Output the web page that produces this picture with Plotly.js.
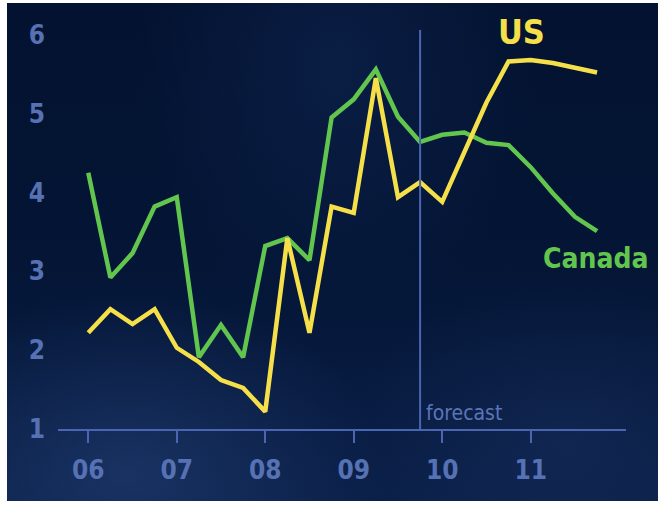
<!DOCTYPE html>
<html>
<head>
<meta charset="utf-8">
<script src="https://cdn.plot.ly/plotly-3.0.1.min.js"></script>
<style>
  html, body { margin: 0; padding: 0; background: #ffffff; }
  #wrap { position: relative; width: 658px; height: 506px; overflow: hidden; }
  #bg { position: absolute; left: 7px; top: 3px; width: 651px; height: 498px;
        background:
          radial-gradient(ellipse 260px 180px at 120px 470px, rgba(40,70,125,0.5), rgba(40,70,125,0) 100%),
          radial-gradient(ellipse 220px 160px at 560px 440px, rgba(35,60,110,0.3), rgba(35,60,110,0) 100%),
          radial-gradient(ellipse 200px 260px at 330px 60px, rgba(20,45,95,0.4), rgba(20,45,95,0) 100%),
          linear-gradient(180deg, #031230 0%, #041535 50%, #0a1f48 100%); }
  #chart { position: absolute; left: 0; top: 0; width: 658px; height: 506px; }
</style>
</head>
<body>
<div id="wrap"><div id="bg"></div><div id="chart"></div></div>
<script>
// Quarterly periods 2006 Q1 .. 2011 Q4 (as decimal years)
const quarters = [
  2006.00, 2006.25, 2006.50, 2006.75,
  2007.00, 2007.25, 2007.50, 2007.75,
  2008.00, 2008.25, 2008.50, 2008.75,
  2009.00, 2009.25, 2009.50, 2009.75,
  2010.00, 2010.25, 2010.50, 2010.75,
  2011.00, 2011.25, 2011.50, 2011.75
];
const canada = [
  4.25, 2.92, 3.23, 3.82,
  3.94, 1.91, 2.32, 1.91,
  3.32, 3.42, 3.14, 4.95,
  5.18, 5.56, 4.96, 4.64,
  4.73, 4.76, 4.63, 4.60,
  4.32, 3.99, 3.69, 3.51
];
const us = [
  2.22, 2.52, 2.33, 2.52,
  2.03, 1.85, 1.62, 1.52,
  1.22, 3.42, 2.22, 3.82,
  3.74, 5.45, 3.94, 4.13,
  3.88, 4.52, 5.14, 5.66,
  5.68, 5.64, 5.58, 5.52
];
const xTickVals = [2006, 2007, 2008, 2009, 2010, 2011];
const xTickText = ['06', '07', '08', '09', '10', '11'];
const yTickVals = [1, 2, 3, 4, 5, 6];
const forecastStart = 2009.75;

const font = 'Liberation Sans Narrow, DejaVu Sans Condensed, Arial Narrow, sans-serif';
const axisBlue = '#4a66b2';
const labelBlue = '#5672b4';

const traces = [
  { x: quarters, y: canada, type: 'scatter', mode: 'lines', name: 'Canada',
    line: { color: '#62c64e', width: 4.5, shape: 'linear' }, hoverinfo: 'skip' },
  { x: quarters, y: us, type: 'scatter', mode: 'lines', name: 'US',
    line: { color: '#f5e04a', width: 4.5, shape: 'linear' }, hoverinfo: 'skip' }
];

const layout = {
  width: 658, height: 506,
  margin: { l: 58, r: 32, t: 11, b: 77 },
  paper_bgcolor: 'rgba(0,0,0,0)',
  plot_bgcolor: 'rgba(0,0,0,0)',
  showlegend: false,
  font: { family: font },
  xaxis: {
    range: [2005.658, 2012.077],
    tickvals: xTickVals, ticktext: xTickText,
    showgrid: false, zeroline: false,
    showline: true, linecolor: axisBlue, linewidth: 2,
    ticks: 'outside', ticklen: 12, tickwidth: 2, tickcolor: axisBlue,
    ticklabelstandoff: 5,
    tickfont: { family: font, size: 26, color: labelBlue, weight: 'bold' }
  },
  yaxis: {
    range: [1, 6.3],
    tickvals: yTickVals,
    showgrid: false, zeroline: false, showline: false,
    ticks: '', ticklabelstandoff: 12,
    tickfont: { family: font, size: 26, color: labelBlue, weight: 'bold' }
  },
  shapes: [
    { type: 'line', xref: 'x', yref: 'y', x0: forecastStart, x1: forecastStart,
      y0: 1, y1: 6.06, line: { color: axisBlue, width: 2 } }
  ],
  annotations: [
    { x: forecastStart, y: 1.02, xref: 'x', yref: 'y', text: 'forecast',
      xanchor: 'left', yanchor: 'bottom', xshift: 4, showarrow: false,
      font: { family: font, size: 21, color: '#5a76b8' } },
    { x: 2010.90, y: 6.04, xref: 'x', yref: 'y', text: 'US',
      xanchor: 'center', yanchor: 'middle', showarrow: false,
      font: { family: font, size: 34, color: '#f5e04a', weight: 'bold' } },
    { x: 2011.73, y: 3.16, xref: 'x', yref: 'y', text: 'Canada',
      xanchor: 'center', yanchor: 'middle', showarrow: false,
      font: { family: font, size: 28, color: '#62c64e', weight: 'bold' } }
  ]
};

Plotly.newPlot('chart', traces, layout, { staticPlot: true, displayModeBar: false });
</script>
</body>
</html>
